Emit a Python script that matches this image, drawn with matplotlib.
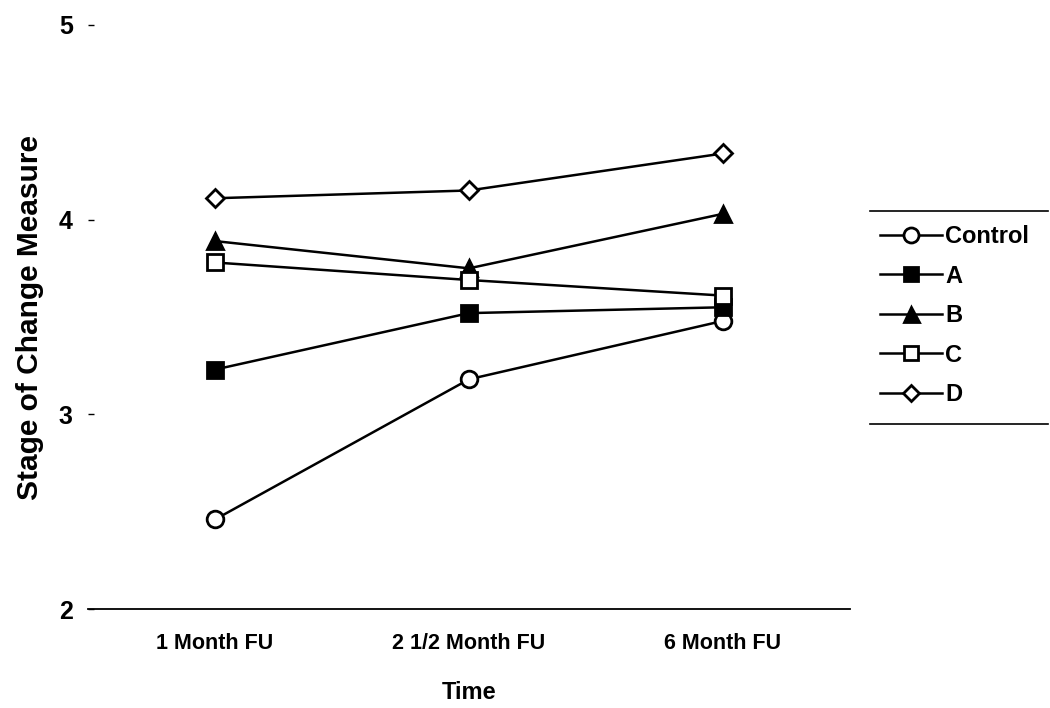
import matplotlib.pyplot as plt
from matplotlib.lines import Line2D

plt.rcParams['font.family'] = ['Liberation Sans', 'DejaVu Sans']
plt.rcParams['font.weight'] = 'bold'
plt.rcParams['axes.labelweight'] = 'bold'

times = ["1 Month FU", "2 1/2 Month FU", "6 Month FU"]
groups = ["Control", "A", "B", "C", "D"]
control = [2.46, 3.18, 3.48]
group_a = [3.23, 3.52, 3.55]
group_b = [3.89, 3.75, 4.03]
group_c = [3.78, 3.69, 3.61]
group_d = [4.11, 4.15, 4.34]

series = [control, group_a, group_b, group_c, group_d]
markers = ["o", "s", "^", "s", "D"]
fills = ["white", "black", "black", "white", "white"]
sizes = [12, 11, 12, 11, 9]

fig = plt.figure(figsize=(10.5, 7.08), dpi=100)
ax = fig.add_axes([0.0838, 0.1398, 0.7257, 0.8249])

x = list(range(len(times)))
for name, vals, m, fc, ms in zip(groups, series, markers, fills, sizes):
    ax.plot(x, vals, color="black", lw=1.8, marker=m, markersize=ms,
            markerfacecolor=fc, markeredgecolor="black", markeredgewidth=2,
            label=name, clip_on=False)

ax.set_xlim(-0.5, 2.5)
ax.set_ylim(2, 5)
ax.set_xticks(x)
ax.set_xticklabels(times, fontsize=15.5)
ax.set_yticks([2, 3, 4, 5])
ax.set_yticklabels(["2", "3", "4", "5"], fontsize=18)
ax.tick_params(axis="x", length=0, pad=17)
ax.tick_params(axis="y", length=4, width=1, pad=11, direction="in")
for s in ["top", "right", "left"]:
    ax.spines[s].set_visible(False)
ax.spines["bottom"].set_linewidth(1.3)

ax.set_xlabel("Time", fontsize=17, labelpad=20)
ax.set_ylabel("Stage of Change Measure", fontsize=21.5, labelpad=11)

leg = ax.legend(loc="upper left", bbox_to_anchor=(0.818, 0.712),
                bbox_transform=fig.transFigure, frameon=False,
                fontsize=17, handlelength=2.6, handletextpad=0.15,
                labelspacing=0.7, markerscale=0.9)

# horizontal rules above and below the legend
fig.add_artist(Line2D([0.829, 0.998], [0.702, 0.702], color="black", lw=1.2,
                      transform=fig.transFigure))
fig.add_artist(Line2D([0.829, 0.998], [0.401, 0.401], color="black", lw=1.2,
                      transform=fig.transFigure))

fig.savefig("out.png", dpi=100)
